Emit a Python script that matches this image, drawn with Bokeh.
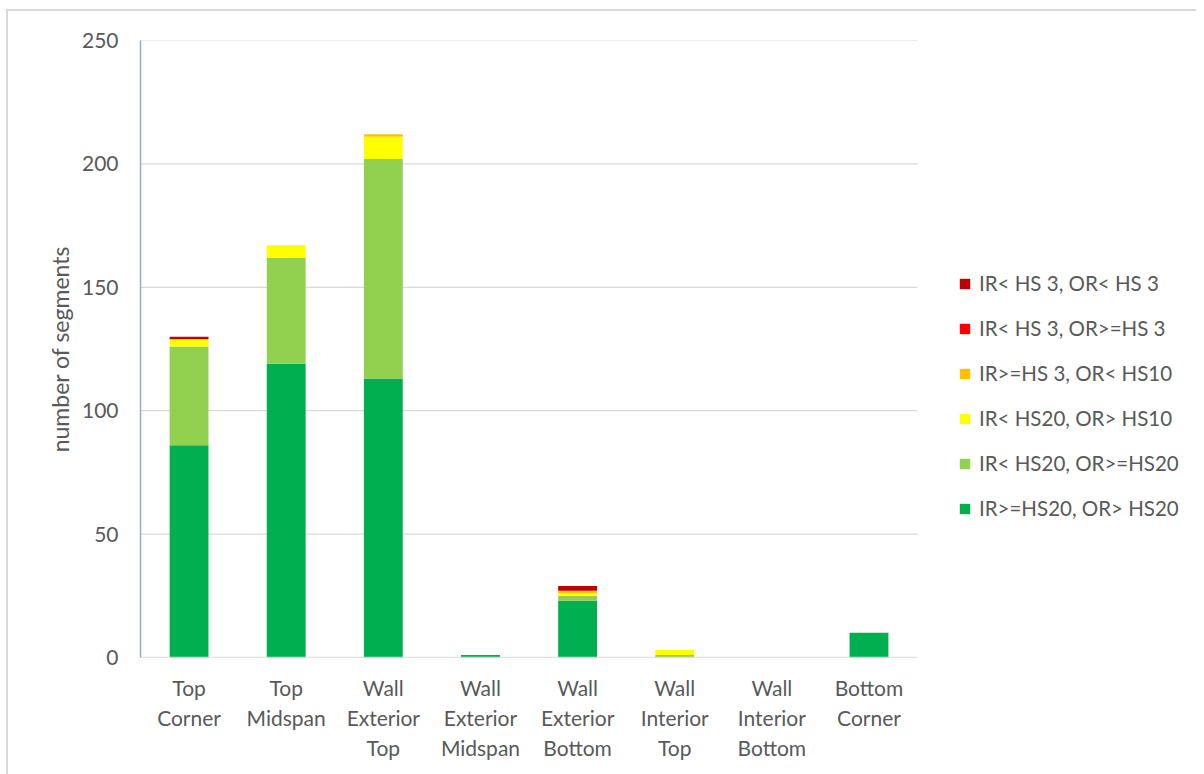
import numpy as np
from bokeh.plotting import figure
from bokeh.models import Legend, LegendItem, Range1d, FixedTicker
from bokeh.embed import file_html
from bokeh.resources import INLINE

# Segment counts per location, by rating class
locations = ["Top\nCorner", "Top\nMidspan", "Wall\nExterior\nTop", "Wall\nExterior\nMidspan",
             "Wall\nExterior\nBottom", "Wall\nInterior\nTop", "Wall\nInterior\nBottom", "Bottom\nCorner"]

ir_ge_hs20_or_gt_hs20 = [86, 119, 113, 1, 23, 0, 0, 10]
ir_lt_hs20_or_ge_hs20 = [40, 43, 89, 0, 2, 1, 0, 0]
ir_lt_hs20_or_gt_hs10 = [3, 5, 9, 0, 1, 2, 0, 0]
ir_ge_hs3_or_lt_hs10 = [0, 0, 1, 0, 1, 0, 0, 0]
ir_lt_hs3_or_ge_hs3 = [0, 0, 0, 0, 0, 0, 0, 0]
ir_lt_hs3_or_lt_hs3 = [1, 0, 0, 0, 2, 0, 0, 0]

series_names = ["IR>=HS20, OR> HS20", "IR< HS20, OR>=HS20", "IR< HS20, OR> HS10",
                "IR>=HS 3, OR< HS10", "IR< HS 3, OR>=HS 3", "IR< HS 3, OR< HS 3"]
series_values = [ir_ge_hs20_or_gt_hs20, ir_lt_hs20_or_ge_hs20, ir_lt_hs20_or_gt_hs10,
                 ir_ge_hs3_or_lt_hs10, ir_lt_hs3_or_ge_hs3, ir_lt_hs3_or_lt_hs3]
series_colors = ["#00B050", "#92D050", "#FFFF00", "#FFC000", "#FF0000", "#C00000"]
y_ticks = [0, 50, 100, 150, 200, 250]

FONT = "Lato"
FS = "21px"
TXT = "#595959"
GRID = "#D9D9D9"

n = len(locations)
xpos = (np.arange(n) + 0.5).tolist()

data = {"x": xpos}
keys = []
for i, vals in enumerate(series_values):
    k = f"s{i}"
    keys.append(k)
    data[k] = vals

# plotting area continues to the right so the legend sits inside it
p = figure(x_range=Range1d(0, n * 1.359), y_range=Range1d(0, 250),
           frame_width=1056, frame_height=617, output_backend="svg", toolbar_location=None,
           min_border_left=132, min_border_right=0, min_border_top=29, min_border_bottom=117)
p.outline_line_color = None
p.background_fill_color = "white"
p.border_fill_color = "white"
p.margin = (9, 0, 0, 6)
p.styles = {"border-left": "2px solid #D9D9D9", "border-top": "2px solid #D9D9D9"}

# horizontal gridlines spanning the category area only
p.segment(x0=[0] * len(y_ticks), x1=[n] * len(y_ticks), y0=y_ticks, y1=y_ticks,
          line_color=GRID, line_width=1.2)

renderers = p.vbar_stack(keys, x="x", width=0.4, color=series_colors, source=data, line_width=0)

# category baseline
p.segment(x0=[0], x1=[n], y0=[0], y1=[0], line_color=GRID, line_width=1.5)

items = [LegendItem(label=series_names[i], renderers=[renderers[i]]) for i in range(len(keys))][::-1]
legend = Legend(items=items, location=(818, 137), orientation="vertical",
                label_text_font=FONT, label_text_font_size="20.5px", label_text_color=TXT,
                glyph_width=13, glyph_height=13, spacing=21, label_standoff=8,
                border_line_color=None, background_fill_alpha=0, padding=0, margin=0)
p.add_layout(legend, "center")

# axes
p.yaxis.ticker = y_ticks
p.yaxis.axis_line_color = "#8FAADC"
p.yaxis.axis_line_width = 1.5
p.yaxis.major_tick_line_color = None
p.yaxis.minor_tick_line_color = None
p.yaxis.major_label_text_font = FONT
p.yaxis.major_label_text_font_size = FS
p.yaxis.major_label_text_color = TXT
p.yaxis.major_label_standoff = 16
p.yaxis.axis_label = "number of segments"
p.yaxis.axis_label_text_font = FONT
p.yaxis.axis_label_text_font_size = "23px"
p.yaxis.axis_label_text_font_style = "normal"
p.yaxis.axis_label_text_color = TXT
p.yaxis.axis_label_standoff = 5

p.xaxis.ticker = FixedTicker(ticks=xpos)
p.xaxis.major_label_overrides = dict(zip(xpos, locations))
p.xaxis.axis_line_color = None
p.xaxis.major_tick_line_color = None
p.xaxis.minor_tick_line_color = None
p.xaxis.major_label_text_font = FONT
p.xaxis.major_label_text_font_size = FS
p.xaxis.major_label_text_color = TXT
p.xaxis.major_label_standoff = 11
p.xaxis.major_label_text_line_height = 1.2

p.xgrid.grid_line_color = None
p.ygrid.grid_line_color = None

open("out.html", "w").write(file_html(p, INLINE))
